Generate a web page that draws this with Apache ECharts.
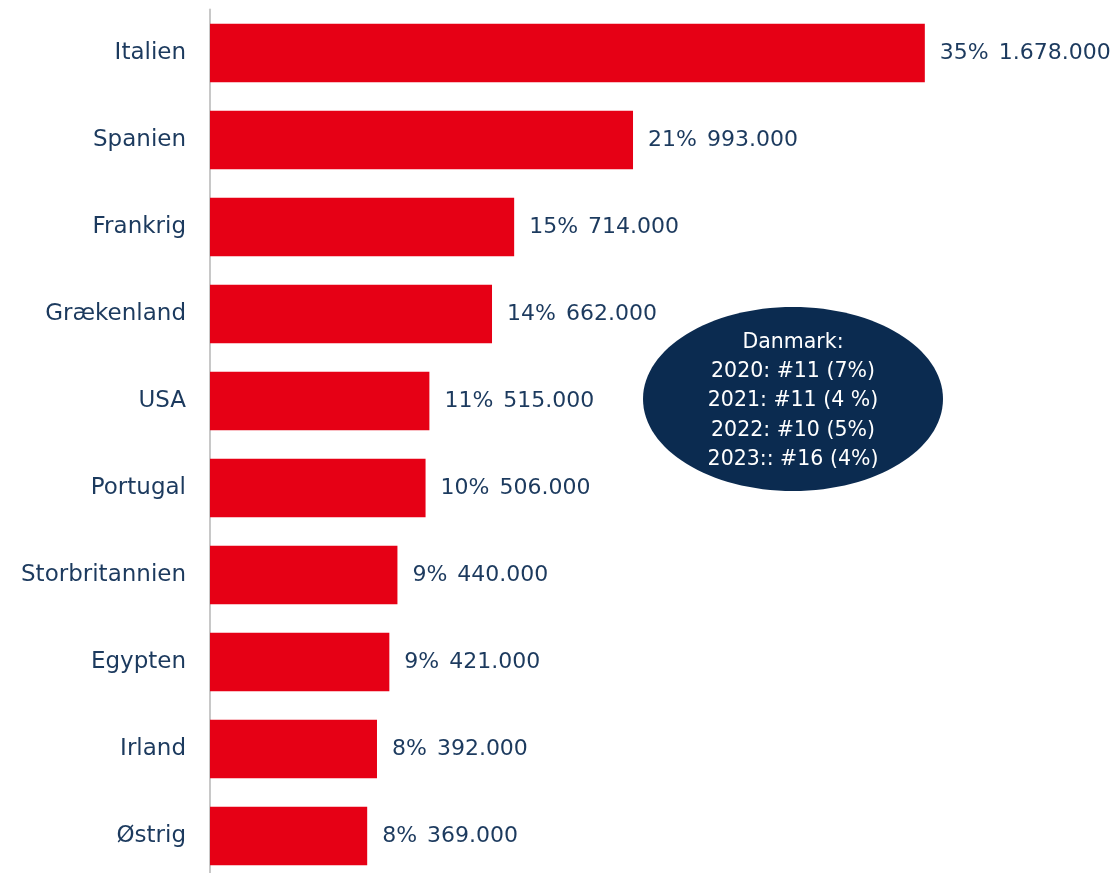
<!DOCTYPE html>
<html>
<head>
<meta charset="utf-8">
<script src="https://cdn.jsdelivr.net/npm/echarts@6/dist/echarts.min.js"></script>
<style>
  html, body { margin: 0; padding: 0; background: #ffffff; }
  #chart { width: 1114px; height: 873px; }
</style>
</head>
<body>
<div id="chart"></div>
<script>
// Top 10 destinations, 2023
const countries = ['Italien', 'Spanien', 'Frankrig', 'Grækenland', 'USA', 'Portugal', 'Storbritannien', 'Egypten', 'Irland', 'Østrig'];
const travellers = [1678000, 993000, 714000, 662000, 515000, 506000, 440000, 421000, 392000, 369000];
const shares = [35, 21, 15, 14, 11, 10, 9, 9, 8, 8];
const denmarkNote = ['Danmark:', '2020: #11 (7%)', '2021: #11 (4 %)', '2022: #10 (5%)', '2023:: #16 (4%)'];

const FONT = '"DejaVu Sans", sans-serif';
const NAVY = '#1c3a5e';

function danish(n) {
  return String(n).replace(/\B(?=(\d{3})+(?!\d))/g, '.');
}

const chart = echarts.init(document.getElementById('chart'), null, { renderer: 'canvas' });

chart.setOption({
  animation: false,
  backgroundColor: '#ffffff',
  // plot area runs slightly past the bottom edge so the last band is cut like the axis
  grid: { left: 210, width: 852, top: 9.5, height: 870, containLabel: false, outerBoundsMode: 'none' },
  xAxis: {
    type: 'value',
    min: 0,
    max: 2000000,
    show: false
  },
  yAxis: {
    type: 'category',
    data: countries,
    inverse: true,
    axisLine: { show: true, lineStyle: { color: '#c8c8c8', width: 2 } },
    axisTick: { show: false },
    axisLabel: { color: NAVY, fontFamily: FONT, fontSize: 23, margin: 24 }
  },
  series: [{
    type: 'bar',
    data: travellers,
    barCategoryGap: '33%',
    itemStyle: { color: '#e60015' },
    label: {
      show: true,
      position: 'right',
      distance: 15,
      color: NAVY,
      fontFamily: FONT,
      fontSize: 22,
      formatter: p => '{p|' + shares[p.dataIndex] + '%}{v|' + danish(p.value) + '}',
      rich: {
        p: { color: NAVY, fontFamily: FONT, fontSize: 22 },
        v: { color: NAVY, fontFamily: FONT, fontSize: 22, padding: [0, 0, 0, 10] }
      }
    }
  }],
  graphic: [{
    type: 'ellipse',
    shape: { cx: 793, cy: 399, rx: 150, ry: 92 },
    style: { fill: '#0b2b50' },
    z: 10
  }, {
    type: 'text',
    x: 793,
    y: 401,
    z: 11,
    style: {
      text: denmarkNote.join('\n'),
      fill: '#ffffff',
      font: '20.5px ' + FONT,
      lineHeight: 29.3,
      align: 'center',
      verticalAlign: 'middle'
    }
  }]
});
</script>
</body>
</html>
